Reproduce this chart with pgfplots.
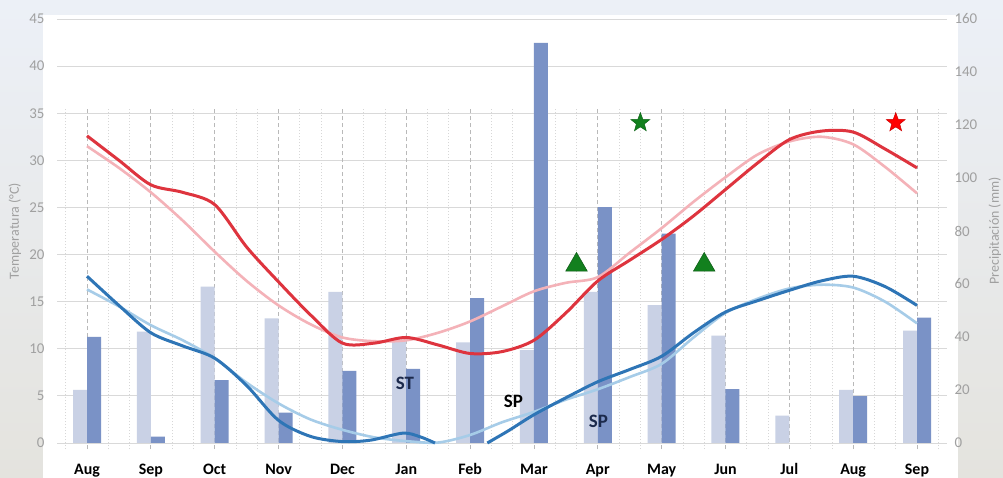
\documentclass[border=0pt]{standalone}
\usepackage{fontspec}
\setmainfont{Carlito}
\usepackage{pgfplots}
\usepackage{pgfplotstable}
\pgfplotsset{compat=1.18}

\definecolor{bgtop}{RGB}{236,240,247}
\definecolor{bgbot}{RGB}{228,227,222}
\definecolor{darkred}{RGB}{222,52,62}
\definecolor{lightred}{RGB}{244,178,184}
\definecolor{darkblue}{RGB}{46,117,182}
\definecolor{lightblue}{RGB}{166,204,232}
\definecolor{darkbar}{RGB}{122,146,198}
\definecolor{lightbar}{RGB}{201,209,229}
\definecolor{hgrid}{RGB}{217,217,217}
\definecolor{vgrid}{RGB}{185,185,185}
\definecolor{mgrid}{RGB}{215,215,215}
\definecolor{tickgray}{RGB}{160,160,160}
\definecolor{navy}{RGB}{28,42,76}
\definecolor{mkgreen}{RGB}{18,128,30}

\pgfdeclareplotmark{fstar}{%
  \pgfpathmoveto{\pgfpointpolar{90}{\pgfplotmarksize}}%
  \pgfpathlineto{\pgfpointpolar{126}{0.42\pgfplotmarksize}}%
  \pgfpathlineto{\pgfpointpolar{162}{\pgfplotmarksize}}%
  \pgfpathlineto{\pgfpointpolar{198}{0.42\pgfplotmarksize}}%
  \pgfpathlineto{\pgfpointpolar{234}{\pgfplotmarksize}}%
  \pgfpathlineto{\pgfpointpolar{270}{0.42\pgfplotmarksize}}%
  \pgfpathlineto{\pgfpointpolar{306}{\pgfplotmarksize}}%
  \pgfpathlineto{\pgfpointpolar{342}{0.42\pgfplotmarksize}}%
  \pgfpathlineto{\pgfpointpolar{18}{\pgfplotmarksize}}%
  \pgfpathlineto{\pgfpointpolar{54}{0.42\pgfplotmarksize}}%
  \pgfpathclose
  \pgfusepathqfillstroke
}

% precipitation (mm): light = left bar, dark = right bar
\pgfplotstableread{
x light dark
0  20 40
1  42 2.4
2  59 23.7
3  47 11.5
4  57 27.2
5  39 28
6  38 54.7
7  35 151
8  57 89
9  52 79
10 40.5 20.3
11 10.3 0
12 20 17.7
13 42.4 47.3
}\precip

\pgfplotstableread{
x y
0 32.6
0.5 30.0
1 27.4
1.5 26.6
2 25.3
2.5 20.8
3 17.1
3.5 13.6
4 10.6
4.5 10.6
5 11.2
5.5 10.4
6 9.5
6.5 9.7
7 10.9
7.5 13.8
8 17.2
8.5 19.4
9 21.6
9.5 24.1
10 26.9
10.5 29.7
11 32.2
11.5 33.1
12 33.0
12.5 31.2
13 29.2
}\tmaxcur

\pgfplotstableread{
x y
0 31.5
0.5 29.2
1 26.6
1.5 23.6
2 20.3
2.5 17.2
3 14.6
3.5 12.6
4 11.2
4.5 10.8
5 10.9
5.5 11.7
6 12.9
6.5 14.5
7 16.1
7.5 17.0
8 17.6
8.5 20.2
9 22.8
9.5 25.6
10 28.2
10.5 30.6
11 32.0
11.5 32.5
12 31.7
12.5 29.3
13 26.5
}\tmaxhist

\pgfplotstableread{
x y
0 16.3
0.5 14.5
1 12.5
1.5 10.9
2 9.0
2.5 6.4
3 4.2
3.5 2.5
4 1.4
4.5 0.6
5 0.2
5.5 0.05
6 0.85
6.5 2.2
7 3.3
7.5 4.6
8 5.7
8.5 7.0
9 8.4
9.5 11.2
10 13.8
10.5 15.3
11 16.4
11.5 16.8
12 16.5
12.5 15.0
13 12.7
}\tminhist

\pgfplotstableread{
x y
0 17.7
0.5 14.6
1 11.7
1.5 10.3
2 9.0
2.5 6.1
3 2.4
3.5 0.7
4 0.15
4.44 0.3
4.95 1.05
5.22 0.65
5.45 0
}\tmincurA

\pgfplotstableread{
x y
6.27 0
6.6 1.3
7 3.0
7.5 4.8
8 6.5
8.5 7.8
9 9.2
9.5 11.7
10 13.9
10.5 15.1
11 16.2
11.5 17.2
12 17.7
12.5 16.6
13 14.6
}\tmincurB

\begin{document}
\begin{tikzpicture}
\shade[top color=bgtop, bottom color=bgbot] (-57bp,-35bp) rectangle (946bp,443bp);
\fill[white] (-14bp,-35bp) rectangle (901bp,428bp);

\pgfplotsset{base/.style={scale only axis, width=890bp, height=424bp,
  at={(0,0)}, anchor=south west, xmin=-0.47, xmax=13.47,
  /pgf/number format/assume math mode=true}}

% axis 1: temperature grid, left ticks, month labels
\begin{axis}[base, ymin=0, ymax=45, ytick={0,5,...,45},
  xtick={0,...,13},
  xticklabels={Aug,Sep,Oct,Nov,Dec,Jan,Feb,Mar,Apr,May,Jun,Jul,Aug,Sep},
  axis line style={draw=none}, major tick length=0pt,
  ymajorgrids, grid style={hgrid, line width=0.9bp},
  yticklabel style={font=\fontsize{15}{18}\selectfont, text=tickgray, xshift=-9bp},
  xticklabel style={font=\fontsize{16}{19}\selectfont\bfseries, text=black, anchor=base, yshift=-31bp},
  clip=false]
\pgfplotsinvokeforeach{-0.3333,0.3333,0.6667,1.3333,1.6667,2.3333,2.6667,3.3333,3.6667,4.3333,4.6667,5.3333,5.6667,6.3333,6.6667,7.3333,7.6667,8.3333,8.6667,9.3333,9.6667,10.3333,10.6667,11.3333,11.6667,12.3333,12.6667,13.3333}{
  \draw[mgrid, line width=0.7bp, dash pattern=on 1.5bp off 1.5bp] (axis cs:#1,-0.64) -- (axis cs:#1,35.5);
}
\pgfplotsinvokeforeach{0,...,13}{
  \draw[vgrid, line width=0.8bp, dash pattern=on 4bp off 3bp] (axis cs:#1,-0.64) -- (axis cs:#1,35.5);
}
\end{axis}

% axis 2: precipitation bars, right ticks
\begin{axis}[base, ymin=0, ymax=160, ytick={0,20,...,160},
  axis y line*=right, axis x line=none, y axis line style={draw=none},
  major tick length=0pt,
  yticklabel style={font=\fontsize{15}{18}\selectfont, text=tickgray, xshift=4bp}]
\addplot[ybar, bar width=14bp, bar shift=-7bp, fill=lightbar, draw=none] table[x=x, y=light] {\precip};
\addplot[ybar, bar width=14bp, bar shift=7bp, fill=darkbar, draw=none] table[x=x, y=dark] {\precip};
\end{axis}

% axis 3: temperature lines and markers
\begin{axis}[base, ymin=0, ymax=45, hide axis, clip=false]
\addplot[lightred, line width=2.6bp, smooth, no markers] table {\tmaxhist};
\addplot[darkred, line width=3bp, smooth, no markers] table {\tmaxcur};
\addplot[lightblue, line width=2.6bp, smooth, no markers] table {\tminhist};
\addplot[darkblue, line width=3bp, smooth, no markers] table {\tmincurA};
\addplot[darkblue, line width=3bp, smooth, no markers] table {\tmincurB};
\addplot[only marks, mark=fstar, mark size=10bp, fill=mkgreen, draw=mkgreen!80!black, line width=0.5bp] coordinates {(8.667,34.0)};
\addplot[only marks, mark=fstar, mark size=10bp, fill=red, draw=red!80!black, line width=0.5bp] coordinates {(12.667,34.0)};
\addplot[only marks, mark=triangle*, mark size=12.5bp, fill=mkgreen, draw=mkgreen!70!black, line width=0.5bp] coordinates {(7.667,18.9) (9.667,18.9)};
\node[font=\fontsize{19}{22}\selectfont\bfseries, text=navy] at (axis cs:4.98,6.37) {ST};
\node[font=\fontsize{19}{22}\selectfont\bfseries, text=black] at (axis cs:6.68,4.38) {SP};
\node[font=\fontsize{19}{22}\selectfont\bfseries, text=navy] at (axis cs:8.01,2.34) {SP};
\end{axis}

\node[rotate=90, font=\fontsize{14}{17}\selectfont, text=tickgray] at (-42bp,212bp) {Temperatura (°C)};
\node[rotate=90, font=\fontsize{14}{17}\selectfont, text=tickgray] at (938bp,212bp) {Precipitación (mm)};

\pgfresetboundingbox
\path (-57bp,-35bp) rectangle (946bp,443bp);
\end{tikzpicture}
\end{document}
